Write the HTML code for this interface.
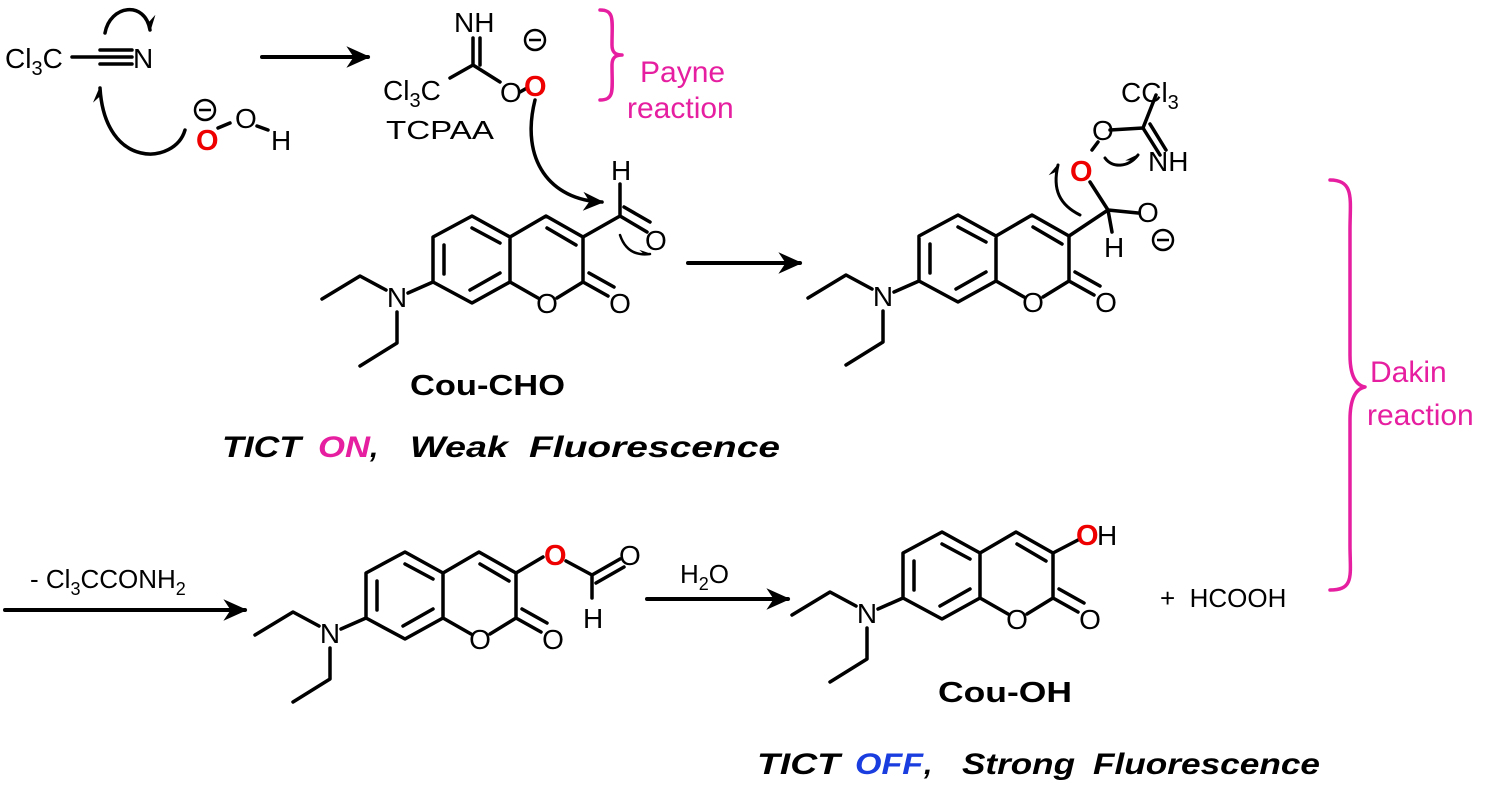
<!DOCTYPE html>
<html><head><meta charset="utf-8"><style>
body{margin:0;background:#fff}
svg{display:block}
text{font-family:"Liberation Sans",sans-serif}
</style></head><body>
<svg width="1500" height="789" viewBox="0 0 1500 789" xmlns="http://www.w3.org/2000/svg">
<defs>
<marker id="ah" viewBox="0 0 10 10" refX="9" refY="5" markerWidth="6" markerHeight="6" orient="auto"><path d="M0,0.5 L10,5 L0,9.5 L3,5Z" fill="#000"/></marker>
<marker id="hh" viewBox="0 0 10 10" refX="9" refY="5" markerWidth="4.5" markerHeight="4.5" orient="auto"><path d="M0,0 L10,5 L4,5Z" fill="#000"/></marker>
</defs>
<rect width="1500" height="789" fill="#fff"/>
<g fill="none" stroke="#000" stroke-width="3.5" stroke-linecap="round" stroke-linejoin="round">
<path d="M72,57 L132,57 M100,50 L132,50 M100,64 L132,64"/>
<path d="M105,33 C110,5 145,0 150,30" marker-end="url(#hh)"/>
<path d="M185,130 C175,165 105,170 100,88" marker-end="url(#hh)"/>
<path d="M218,128 L230,123 M257,126 L268,130"/>
<path d="M262,57 L368,57" stroke-width="4" marker-end="url(#ah)"/>
<path d="M450,78 L473,65 L473,38 M480,65 L480,38 M473,65 L500,82 M520,92 L527,88"/>
<path d="M535,100 C520,160 550,200 602,202" marker-end="url(#ah)"/>
<path d="M600,10 C615,10 612,20 612,45 C612,52 615,55 622,55 C615,55 612,58 612,65 C612,90 615,100 600,100" stroke="#e61ea0"/>
<path d="M583,237 L620,216 L620,184 M620,216 L647,232 M624,207 L650,222"/>
<path d="M620,235 C625,250 635,256 650,254" stroke-width="2.5" marker-end="url(#hh)"/>
<path d="M688,263 L800,263" stroke-width="4" marker-end="url(#ah)"/>
<path d="M1069,236 L1108,210 L1112,232 M1108,210 L1138,213 M1108,210 L1090,182 M1092,150 L1098,142 M1110,130 L1143,128 L1156,95 M1143,128 L1160,155 M1150,124 L1166,150"/>
<path d="M1080,215 C1060,205 1052,190 1058,165" stroke-width="3" marker-end="url(#hh)"/>
<path d="M1105,158 C1112,168 1128,168 1138,155" stroke-width="3" marker-end="url(#hh)"/>
<path d="M1330,180 C1355,180 1350,200 1350,230 L1350,355 C1350,375 1355,385 1365,387 C1355,389 1350,400 1350,420 L1350,545 C1350,575 1355,590 1330,590" stroke="#e61ea0"/>
<path d="M5,610 L245,610" stroke-width="4" marker-end="url(#ah)"/>
<path d="M647,599 L788,599" stroke-width="4" marker-end="url(#ah)"/>
<path d="M516,573 L543,557 M566,561 L592,575 L620,559 M592,575 L592,598 M596,583 L624,567"/>
<path d="M1053,553 L1078,540"/>
</g>
<g transform="translate(472,216)">
<path fill="none" stroke="#000" stroke-width="3.5" stroke-linecap="round" stroke-linejoin="round" d="M0,0 L-39,21 L-39,66 L0,87 L38,66 L38,21 Z M38,21 L74,0 L111,21 L111,66 M38,66 L66,82 M85,82 L111,66 M-28,29 L-28,58 M0,12 L28,27 M-2,74 L28,57 M75,12 L104,29 M111,66 L136,80 M117,57 L142,71 M-39,66 L-64,77 M-86,74 L-112,60 L-150,83 M-75,96 L-75,127 L-112,150"/>
<g font-size="28" text-anchor="middle"><text x="-75" y="91">N</text><text x="75" y="97">O</text><text x="148" y="97">O</text></g>
</g>
<g transform="translate(958,215)">
<path fill="none" stroke="#000" stroke-width="3.5" stroke-linecap="round" stroke-linejoin="round" d="M0,0 L-39,21 L-39,66 L0,87 L38,66 L38,21 Z M38,21 L74,0 L111,21 L111,66 M38,66 L66,82 M85,82 L111,66 M-28,29 L-28,58 M0,12 L28,27 M-2,74 L28,57 M75,12 L104,29 M111,66 L136,80 M117,57 L142,71 M-39,66 L-64,77 M-86,74 L-112,60 L-150,83 M-75,96 L-75,127 L-112,150"/>
<g font-size="28" text-anchor="middle"><text x="-75" y="91">N</text><text x="75" y="97">O</text><text x="148" y="97">O</text></g>
</g>
<g transform="translate(405,552)">
<path fill="none" stroke="#000" stroke-width="3.5" stroke-linecap="round" stroke-linejoin="round" d="M0,0 L-39,21 L-39,66 L0,87 L38,66 L38,21 Z M38,21 L74,0 L111,21 L111,66 M38,66 L66,82 M85,82 L111,66 M-28,29 L-28,58 M0,12 L28,27 M-2,74 L28,57 M75,12 L104,29 M111,66 L136,80 M117,57 L142,71 M-39,66 L-64,77 M-86,74 L-112,60 L-150,83 M-75,96 L-75,127 L-112,150"/>
<g font-size="28" text-anchor="middle"><text x="-75" y="91">N</text><text x="75" y="97">O</text><text x="148" y="97">O</text></g>
</g>
<g transform="translate(942,532)">
<path fill="none" stroke="#000" stroke-width="3.5" stroke-linecap="round" stroke-linejoin="round" d="M0,0 L-39,21 L-39,66 L0,87 L38,66 L38,21 Z M38,21 L74,0 L111,21 L111,66 M38,66 L66,82 M85,82 L111,66 M-28,29 L-28,58 M0,12 L28,27 M-2,74 L28,57 M75,12 L104,29 M111,66 L136,80 M117,57 L142,71 M-39,66 L-64,77 M-86,74 L-112,60 L-150,83 M-75,96 L-75,127 L-112,150"/>
<g font-size="28" text-anchor="middle"><text x="-75" y="91">N</text><text x="75" y="97">O</text><text x="148" y="97">O</text></g>
</g>
<g fill="none" stroke="#000" stroke-width="2.5">
<circle cx="205" cy="110" r="10"/><path d="M199,110 H211"/>
<circle cx="535" cy="40" r="10"/><path d="M529,40 H541"/>
<circle cx="1163" cy="240" r="10"/><path d="M1157,240 H1169"/>
</g>
<g font-size="28">
<text x="5" y="68">Cl<tspan font-size="20" dy="7">3</tspan><tspan dy="-7">C</tspan></text>
<text x="133" y="68">N</text>
<text x="196" y="150" fill="#e00" font-weight="bold" font-size="29">O</text>
<text x="235" y="128">O</text>
<text x="271" y="150">H</text>
<text x="454" y="32">NH</text>
<text x="383" y="100">Cl<tspan font-size="20" dy="7">3</tspan><tspan dy="-7">C</tspan></text>
<text x="500" y="102">O</text>
<text x="524" y="96" fill="#e00" font-weight="bold" font-size="29">O</text>
<text x="386" y="139" font-size="26" textLength="108" lengthAdjust="spacingAndGlyphs">TCPAA</text>
<text x="611" y="180">H</text>
<text x="645" y="250">O</text>
<text x="1121" y="102">CCl<tspan font-size="20" dy="7">3</tspan></text>
<text x="1092" y="140">O</text>
<text x="1070" y="181" fill="#e00" font-weight="bold" font-size="29">O</text>
<text x="1148" y="171">NH</text>
<text x="1137" y="222">O</text>
<text x="1104" y="257">H</text>
<text x="544" y="565" fill="#e00" font-weight="bold" font-size="29">O</text>
<text x="619" y="565">O</text>
<text x="583" y="628">H</text>
<text x="1076" y="545" fill="#e00" font-weight="bold" font-size="29">O</text>
<text x="1097" y="545">H</text>
<text x="30" y="588" font-size="26">- Cl<tspan font-size="18" dy="7">3</tspan><tspan dy="-7">CCONH</tspan><tspan font-size="18" dy="7">2</tspan></text>
<text x="680" y="583" font-size="26">H<tspan font-size="18" dy="7">2</tspan><tspan dy="-7">O</tspan></text>
<text x="1160" y="607" font-size="26">+&#160; HCOOH</text>
</g>
<g font-size="30" fill="#e61ea0">
<text x="640" y="82">Payne</text><text x="627" y="118">reaction</text>
<text x="1370" y="382">Dakin</text><text x="1367" y="425">reaction</text>
</g>
<g font-weight="bold" font-size="29">
<text x="410" y="395" textLength="155" lengthAdjust="spacingAndGlyphs">Cou-CHO</text>
<text x="938" y="702" textLength="134" lengthAdjust="spacingAndGlyphs">Cou-OH</text>
</g>
<g font-weight="bold" font-style="italic" font-size="30">
<text x="222" y="457" textLength="79" lengthAdjust="spacingAndGlyphs">TICT</text>
<text x="318" y="457" fill="#e61ea0" textLength="52" lengthAdjust="spacingAndGlyphs">ON</text>
<text x="370" y="457">,</text>
<text x="410" y="457" textLength="98" lengthAdjust="spacingAndGlyphs">Weak</text>
<text x="529" y="457" textLength="251" lengthAdjust="spacingAndGlyphs">Fluorescence</text>
<text x="757" y="774" textLength="83" lengthAdjust="spacingAndGlyphs">TICT</text>
<text x="855" y="774" fill="#1a3de0" textLength="68" lengthAdjust="spacingAndGlyphs">OFF</text>
<text x="924" y="774">,</text>
<text x="962" y="774" textLength="113" lengthAdjust="spacingAndGlyphs">Strong</text>
<text x="1093" y="774" textLength="227" lengthAdjust="spacingAndGlyphs">Fluorescence</text>
</g>
</svg>
</body></html>
